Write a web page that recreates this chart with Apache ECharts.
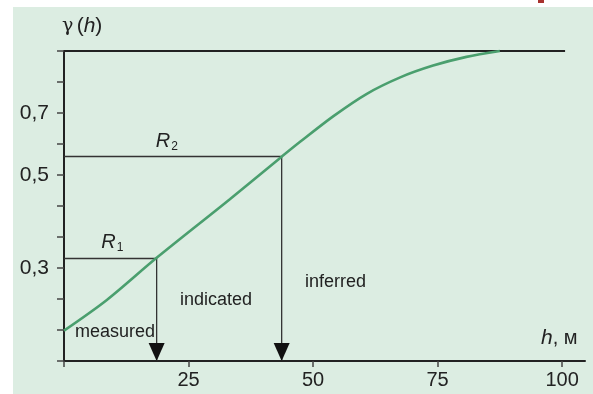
<!DOCTYPE html>
<html>
<head>
<meta charset="utf-8">
<script src="https://cdn.jsdelivr.net/npm/echarts@6/dist/echarts.min.js"></script>
<style>
html,body{margin:0;padding:0;background:#fff;}
#c{width:593px;height:394px;}
</style>
</head>
<body>
<div id="c"></div>
<script>
// ---- data ----
var curveX = [0, 8.6, 18.6, 33.3, 43.7, 47.4, 54.1, 60.8, 67.5, 74.1, 80.8, 87.5];
var curveY = [0.098, 0.197, 0.333, 0.522, 0.659, 0.707, 0.790, 0.862, 0.915, 0.953, 0.981, 1.0];
var sillX = [0, 100.6];
var sillY = [1.0, 1.0];
var r1 = [18.6, 0.333];
var r2 = [43.7, 0.659];
var xTickValues = [0, 25, 50, 75, 100];
var xLabelValues = [25, 50, 75, 100];
var yTickValues = [0, 0.1, 0.2, 0.3, 0.4, 0.5, 0.6, 0.7, 0.8, 0.9, 1.0];
var yTickLabels = ['', '', '', '0,3', '', '', '0,5', '', '0,7', '', ''];
var zoneLabels = ['measured', 'indicated', 'inferred'];

var FONT = 'Liberation Sans';
var INK = '#222';

function pairs(xs, ys) { return xs.map(function (x, i) { return [x, ys[i]]; }); }

function rangeSeries(r, sub, dx) {
  return {
    type: 'line',
    silent: true,
    clip: false,
    data: [
      { value: [r[0], r[1]], symbol: 'none' },
      { value: [r[0], 0], symbol: 'triangle', symbolSize: [16, 18], symbolRotate: 180, symbolOffset: [0, -9] }
    ],
    showSymbol: true,
    itemStyle: { color: '#111' },
    lineStyle: { color: '#333', width: 1.3 },
    z: 3,
    markLine: {
      silent: true,
      symbol: 'none',
      animation: false,
      lineStyle: { color: '#333', width: 1.3, type: 'solid' },
      label: {
        show: true,
        position: 'middle',
        distance: 4,
        offset: [dx, 0],
        formatter: '{r|R}{s|' + sub + '}',
        rich: {
          r: { fontFamily: FONT, fontStyle: 'italic', fontSize: 20, color: INK },
          s: { fontFamily: FONT, fontSize: 12, color: INK, padding: [10, 0, 0, 1] }
        }
      },
      data: [[{ coord: [0, r[1]] }, { coord: [r[0], r[1]] }]]
    }
  };
}

var chart = echarts.init(document.getElementById('c'), null, { renderer: 'canvas' });
chart.setOption({
  animation: false,
  backgroundColor: '#ffffff',
  grid: { left: 64, right: 8, top: 51, bottom: 33 },
  graphic: [
    { type: 'rect', z: -10, shape: { x: 13, y: 7, width: 580, height: 387 }, style: { fill: '#dcede2' } },
    { type: 'rect', z: -10, shape: { x: 538, y: 0, width: 6, height: 3 }, style: { fill: '#a8322e' } },
    { type: 'text', x: 75, y: 332, style: { text: zoneLabels[0], fontFamily: FONT, fontSize: 18, fill: INK, verticalAlign: 'middle' } },
    { type: 'text', x: 180, y: 300, style: { text: zoneLabels[1], fontFamily: FONT, fontSize: 18, fill: INK, verticalAlign: 'middle' } },
    { type: 'text', x: 305, y: 282, style: { text: zoneLabels[2], fontFamily: FONT, fontSize: 18, fill: INK, verticalAlign: 'middle' } }
  ],
  xAxis: {
    type: 'value',
    min: 0,
    max: 104.6,
    interval: 25,
    splitLine: { show: false },
    axisLine: { show: true, onZero: false, lineStyle: { color: INK, width: 2 } },
    axisTick: { show: true, customValues: xTickValues, length: 6, lineStyle: { color: '#444', width: 1.5 } },
    axisLabel: { customValues: xLabelValues, margin: 9, fontFamily: FONT, fontSize: 20, color: INK },
    name: '{i|h}{n|, м}',
    nameLocation: 'end',
    nameGap: -44,
    nameTextStyle: {
      align: 'left', verticalAlign: 'bottom', padding: [0, 0, 12, 0],
      rich: {
        i: { fontFamily: FONT, fontStyle: 'italic', fontSize: 21, color: INK },
        n: { fontFamily: FONT, fontSize: 20, color: INK }
      }
    }
  },
  yAxis: {
    type: 'value',
    min: 0,
    max: 1,
    interval: 0.1,
    splitLine: { show: false },
    axisLine: { show: true, onZero: false, lineStyle: { color: INK, width: 2 } },
    axisTick: { show: true, customValues: yTickValues, length: 7, lineStyle: { color: '#444', width: 1.5 } },
    axisLabel: {
      customValues: yTickValues, margin: 15, fontFamily: FONT, fontSize: 21, color: INK,
      formatter: function (v) { return yTickLabels[Math.round(v * 10)] || ''; }
    },
    name: '{g|γ} {p|(}{i|h}{p|)}',
    nameLocation: 'end',
    nameGap: 14,
    nameTextStyle: {
      align: 'left', padding: [0, 0, 0, -2],
      rich: {
        g: { fontFamily: 'DejaVu Serif', fontSize: 19, color: INK },
        p: { fontFamily: FONT, fontSize: 21, color: INK },
        i: { fontFamily: FONT, fontStyle: 'italic', fontSize: 21, color: INK }
      }
    }
  },
  series: [
    {
      type: 'line', silent: true, clip: false, showSymbol: false,
      data: pairs(sillX, sillY),
      lineStyle: { color: INK, width: 2 }, z: 2
    },
    rangeSeries(r1, '1', 2),
    rangeSeries(r2, '2', -6),
    {
      type: 'line', silent: true, clip: false, showSymbol: false, smooth: 0.3,
      data: pairs(curveX, curveY),
      lineStyle: { color: '#4a9f6e', width: 2.6 }, z: 5
    }
  ]
});
</script>
</body>
</html>
